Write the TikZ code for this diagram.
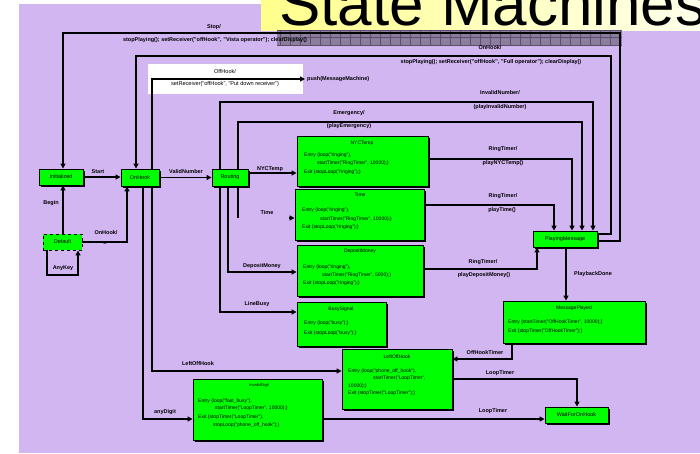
\documentclass[tikz,border=0pt]{standalone}
\usepackage{fontspec}
\setmainfont{Liberation Sans}
\usetikzlibrary{arrows.meta,shadows}
\definecolor{lilac}{RGB}{210,182,242}
\definecolor{boxgreen}{RGB}{0,255,0}
\definecolor{hatchfill}{RGB}{140,125,158}
\definecolor{hatchline}{RGB}{90,80,105}
\begin{document}
\begin{tikzpicture}[x=1pt,y=-1pt,
  st/.style={draw=black,fill=boxgreen,line width=0.9pt,inner sep=0pt,
    drop shadow={shadow xshift=1.6pt,shadow yshift=-1.6pt,fill=black,opacity=1}},
  stdash/.style={draw=black,fill=boxgreen,line width=0.9pt,inner sep=0pt,dashed},
  conn/.style={line width=1.4pt,draw=black},
  arr/.style={conn,-{Triangle[length=5pt,width=5pt]}},
  lbl/.style={font=\fontsize{5.5}{6}\selectfont\bfseries,inner sep=0pt},
  plain/.style={font=\fontsize{5.6}{6}\selectfont,inner sep=0pt},
  txt/.style={font=\fontsize{5}{6}\selectfont,inner sep=0pt,anchor=west},
  ttl/.style={font=\fontsize{5}{6}\selectfont,inner sep=0pt},
  nm/.style={font=\fontsize{5.5}{6}\selectfont}]
\useasboundingbox (0,0) rectangle (700,453);
\fill[white] (0,0) rectangle (700,453);
\fill[lilac] (19,4) rectangle (700,453);
% title area
\shade[left color={rgb,255:red,255;green,255;blue,140}, right color={rgb,255:red,255;green,255;blue,235}] (261,0) rectangle (700,30);
\fill[hatchfill] (277,30) rectangle (622,45);
\draw[hatchline,line width=0.4pt,xstep=10pt,ystep=7.5pt] (277,30) grid (622,45);
\begin{scope}
\clip (0,0) rectangle (700,453);
\node[anchor=base west,font=\fontsize{62}{62}\selectfont,inner sep=0pt] (title) at (279,25) {State Machines};
\end{scope}
% white label box
\fill[white] (148,64) rectangle (303,94);

% states
\node[st,minimum width=44pt,minimum height=16pt,nm] (Initialized) at (61,177) {Initialized};
\node[st,minimum width=38pt,minimum height=17pt,nm] (OnHook) at (140,177.5) {OnHook};
\node[st,minimum width=36pt,minimum height=17pt,nm] (Routing) at (230,177.5) {Routing};
\node[stdash,minimum width=39pt,minimum height=16pt,nm] (Default) at (62.5,242) {Default};
\node[st,minimum width=131pt,minimum height=50pt] (NYCTemp) at (362.5,161) {};
\node[st,minimum width=129pt,minimum height=51pt] (Time) at (359.5,214.5) {};
\node[st,minimum width=126pt,minimum height=51pt] (DepositMoney) at (360,270.5) {};
\node[st,minimum width=89pt,minimum height=44pt] (BusySignal) at (341.5,324) {};
\node[st,minimum width=110pt,minimum height=60pt] (LeftOffHook) at (397,379) {};
\node[st,minimum width=129pt,minimum height=61pt] (InvalidDigit) at (257.5,409.5) {};
\node[st,minimum width=64pt,minimum height=16pt,nm] (PlayingMessage) at (565,239) {PlayingMessage};
\node[st,minimum width=142pt,minimum height=42pt] (MessagePlayed) at (574,322) {};
\node[st,minimum width=63pt,minimum height=16pt,nm] (WaitForOnHook) at (576.5,415) {WaitForOnHook};

% state contents
\node[ttl] (t1) at (362,143) {NYCTemp};
\node[txt] (t1a) at (304,155) {Entry \{loop("ringing"),};
\node[txt] (t1b) at (317,163) {startTimer("RingTimer", 10000);\}};
\node[txt] (t1c) at (304,172) {Exit \{stopLoop("ringing");\}};

\node[ttl] (t2) at (360,195) {Time};
\node[txt] (t2a) at (302,210) {Entry \{loop("ringing"),};
\node[txt] (t2b) at (320,219) {startTimer("RingTimer", 10000);\}};
\node[txt] (t2c) at (302,227) {Exit \{stopLoop("ringing");\}};

\node[ttl] (t3) at (360,251) {DepositMoney};
\node[txt] (t3a) at (303,267) {Entry \{loop("ringing"),};
\node[txt] (t3b) at (322,275) {startTimer("RingTimer", 5000);\}};
\node[txt] (t3c) at (303,283) {Exit \{stopLoop("ringing");\}};

\node[ttl] (t4) at (341,309) {BusySignal};
\node[txt] (t4a) at (304,323) {Entry \{loop("busy");\}};
\node[txt] (t4b) at (304,333) {Exit \{stopLoop("busy");\}};

\node[ttl] (t5) at (397,357) {LeftOffHook};
\node[txt] (t5a) at (348,371) {Entry \{loop("phone\_off\_hook"),};
\node[txt] (t5b) at (373,378) {startTimer("LoopTimer",};
\node[txt] (t5c) at (348,386) {10000);\}};
\node[txt] (t5d) at (348,393) {Exit \{stopTimer("LoopTimer");\}};

\node[ttl,font=\fontsize{4}{5}\selectfont] (t6) at (259,385) {InvalidDigit};
\node[txt] (t6a) at (198,401) {Entry \{loop("fast\_busy"),};
\node[txt] (t6b) at (215,408) {startTimer("LoopTimer", 10000);\}};
\node[txt] (t6c) at (198,417) {Exit \{stopTimer("LoopTimer"),};
\node[txt] (t6d) at (213,425) {stopLoop("phone\_off\_hook");\}};

\node[ttl] (t7) at (574,308) {MessagePlayed};
\node[txt] (t7a) at (508,322) {Entry \{startTimer("OffHookTimer", 10000);\}};
\node[txt] (t7b) at (508,331) {Exit \{stopTimer("OffHookTimer");\}};

% connectors
\coordinate (pushpt) at (305,79);
\coordinate (timestub) at (238,218);
\draw[arr] (PlayingMessage.east |- 0,241) -| (620,33) -| (Initialized.north -| 63,0);
\draw[arr] (PlayingMessage.east |- 0,234) -| (611,56) -| (OnHook.north -| 136,0);
\draw[arr] (OnHook.north -| 152,0) |- (pushpt);
\draw[arr] (Routing.north -| 220,0) |- (593,102) -- (PlayingMessage.north -| 593,0);
\draw[arr] (Routing.north -| 238,0) |- (582,122) -- (PlayingMessage.north -| 582,0);
\draw[arr] (Initialized.east) -- (Initialized.east -| OnHook.west);
\draw[arr] (Default.north -| 63,0) -- (Initialized.south -| 63,0);
\draw[arr] (Default.east) -| (OnHook.south -| 127,0);
\draw[arr] (Default.south -| 47,0) |- (78,275) -- (Default.south -| 78,0);
\draw[arr] (OnHook.east) -- (Routing.west);
\draw[arr] (Routing.east |- 0,173) -- (NYCTemp.west |- 0,173);
\draw[conn] (Routing.south -| 238,0) -- (timestub);
\draw[arr] (289,218) -- (Time.west |- 0,218);
\draw[arr] (Routing.south -| 228,0) |- (DepositMoney.west |- 0,272);
\draw[arr] (Routing.south -| 220,0) |- (BusySignal.west |- 0,312);
\draw[arr] (OnHook.south -| 152,0) |- (LeftOffHook.west |- 0,371);
\draw[arr] (OnHook.south -| 143,0) |- (InvalidDigit.west |- 0,419);
\draw[arr] (NYCTemp.east |- 0,159) -| (PlayingMessage.north -| 572,0);
\draw[arr] (Time.east |- 0,205) -| (PlayingMessage.north -| 554,0);
\draw[arr] (DepositMoney.east |- 0,269) -| (PlayingMessage.south -| 537,0);
\draw[arr] (PlayingMessage.south -| 566,0) -- (MessagePlayed.north -| 566,0);
\draw[arr] (MessagePlayed.south -| 512,0) |- (LeftOffHook.east |- 0,359);
\draw[arr] (LeftOffHook.east |- 0,379) -| (WaitForOnHook.north -| 577,0);
\draw[arr] (InvalidDigit.east |- 0,419) -- (WaitForOnHook.west |- 0,419);

% connector labels
\node[lbl] (l1) at (214,27) {Stop/};
\node[lbl] (l2) at (215,40) {stopPlaying(); setReceiver("offHook", "Vista operator"); clearDisplay()};
\node[lbl] (l3) at (490,48) {OnHook/};
\node[lbl] (l4) at (491,62) {stopPlaying(); setReceiver("offHook", "Full operator"); clearDisplay()};
\node[plain] (l5) at (225,71) {OffHook/};
\node[plain] (l6) at (225,84) {setReceiver("offHook", "Put down receiver")};
\node[lbl,anchor=west] (l7) at (307,79) {push(MessageMachine)};
\node[lbl] (l8) at (500,93) {InvalidNumber/};
\node[lbl] (l9) at (500,107) {(playInvalidNumber)};
\node[lbl] (l10) at (349,113) {Emergency/};
\node[lbl] (l11) at (349,126) {(playEmergency)};
\node[lbl] (l12) at (98,172) {Start};
\node[lbl] (l13) at (186,172) {ValidNumber};
\node[lbl] (l14) at (270,169) {NYCTemp};
\node[lbl] (l15) at (51,203) {Begin};
\node[lbl] (l16) at (267,213) {Time};
\node[lbl] (l17) at (106,233) {OnHook/};
\node[lbl] (l18) at (105,245) {--};
\node[lbl] (l19) at (63,268) {AnyKey};
\node[lbl] (l20) at (262,266) {DepositMoney};
\node[lbl] (l21) at (257,304) {LineBusy};
\node[lbl] (l22) at (198,364) {LeftOffHook};
\node[lbl] (l23) at (165,412) {anyDigit};
\node[lbl] (l24) at (503,149) {RingTimer/};
\node[lbl] (l25) at (503,163) {playNYCTemp()};
\node[lbl] (l26) at (503,196) {RingTimer/};
\node[lbl] (l27) at (502,210) {playTime()};
\node[lbl] (l28) at (483,262) {RingTimer/};
\node[lbl] (l29) at (484,275) {playDepositMoney()};
\node[lbl] (l30) at (593,274) {PlaybackDone};
\node[lbl] (l31) at (485,353) {OffHookTimer};
\node[lbl] (l32) at (500,373) {LoopTimer};
\node[lbl] (l33) at (493,411) {LoopTimer};
\end{tikzpicture}
\end{document}
